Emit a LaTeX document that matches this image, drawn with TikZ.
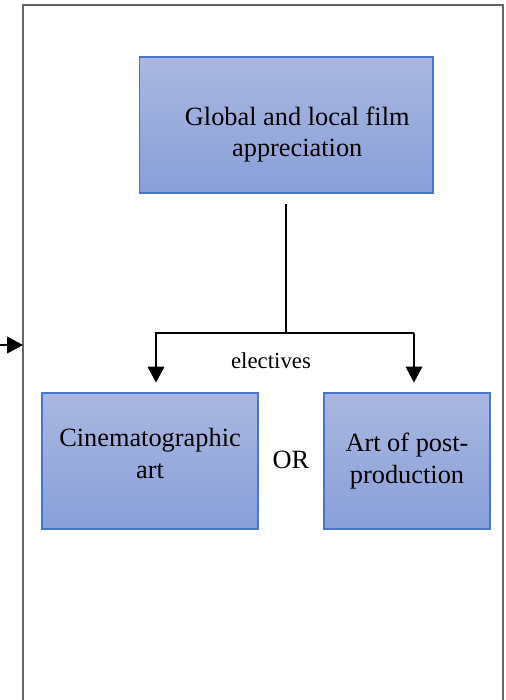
\documentclass[tikz,border=0pt]{standalone}
\usepackage{fontspec}
\setmainfont{Liberation Serif}
\usetikzlibrary{arrows.meta,calc,positioning}
\definecolor{boxtop}{HTML}{AAB8E1}
\definecolor{boxbot}{HTML}{889FD8}
\definecolor{boxline}{HTML}{4A74C6}

\begin{document}
\begin{tikzpicture}
[x=0.02cm,y=-0.02cm,
box/.style={shape=rectangle,draw=boxline,line width=0.6pt,top color=boxtop,bottom color=boxbot,
	align=center,font=\fontsize{15}{18}\selectfont,inner sep=0pt},
arr/.style={-{Triangle[length=9pt,width=9.5pt]},line width=0.6pt}]

\useasboundingbox (0,0) rectangle (506,700);
\clip (0,0) rectangle (506,700);
\draw[gray!80!black,line width=0.9pt] (23,720) |- (503,5) -- (503,720);

\node[box,minimum width=5.88cm,minimum height=2.72cm] (film) at (286,125) {\rule{0pt}{0.75cm}\hspace*{0.45cm}Global and local film\\\hspace*{0.45cm}appreciation};
\node[box,minimum width=4.32cm,minimum height=2.72cm] (cine) at (150,461) {Cinematographic\\art\rule[-0.3cm]{0pt}{0.1pt}};
\node[box,minimum width=3.32cm,minimum height=2.72cm] (post) at (407,461) {Art of post-\\production};

\node[font=\fontsize{13}{15}\selectfont,inner sep=1pt] (elec) at (271,361) {electives};
\node[font=\fontsize{15}{17}\selectfont,inner sep=1pt] (or) at (291,460) {OR};

\coordinate (jl) at (156,333);
\coordinate (jr) at (414,333);
\coordinate (ext) at (0,345);

\draw[line width=0.6pt] ([yshift=-0.2cm]film.south) -- (film.south |- jl);
\draw[arr,shorten >=0.2cm] (jr) -- (jl) -- (jl |- cine.north);
\draw[arr,shorten >=0.2cm] (jr) -- (jr |- post.north);
\draw[arr] (ext) -- (23,345);
\end{tikzpicture}
\end{document}
